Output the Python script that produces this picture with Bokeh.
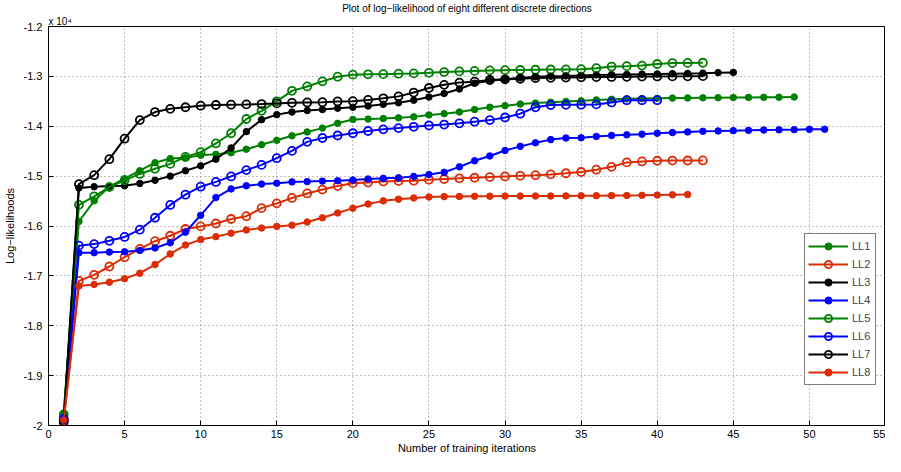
from bokeh.plotting import figure
from bokeh.models import Range1d, FixedTicker, Title, Legend, LegendItem
from bokeh.embed import file_html
from bokeh.resources import INLINE

# ---- data ----
LL1 = [-19750, -15910, -15496, -15212, -15052, -14891, -14731, -14648, -14634, -14582,
       -14563, -14532, -14461, -14370, -14282, -14191, -14114, -14037, -13941, -13864,
       -13857, -13845, -13831, -13812, -13773, -13748, -13715, -13665, -13619, -13588,
       -13555, -13536, -13517, -13503, -13491, -13472, -13459, -13450, -13445, -13440,
       -13436, -13433, -13430, -13428, -13425, -13422, -13420, -13418, -13414]
LL2 = [-19900, -17100, -16979, -16812, -16625, -16459, -16305, -16195, -16060, -16008,
       -15950, -15860, -15804, -15642, -15546, -15438, -15347, -15270, -15199, -15141,
       -15130, -15110, -15100, -15091, -15072, -15058, -15045, -15033, -15020, -15006,
       -14994, -14981, -14965, -14942, -14917, -14871, -14814, -14725, -14706, -14692,
       -14688, -14687, -14686]
LL3 = [-19900, -15237, -15212, -15200, -15193, -15148, -15083, -15000, -14891, -14794,
       -14660, -14436, -14108, -13869, -13767, -13715, -13684, -13665, -13638, -13619,
       -13594, -13561, -13530, -13478, -13414, -13343, -13253, -13137, -13087, -13060,
       -13029, -13010, -12997, -12990, -12980, -12970, -12965, -12960, -12955, -12950,
       -12945, -12940, -12935, -12925, -12920]
LL4 = [-19850, -16536, -16536, -16523, -16517, -16490, -16440, -16336, -16124, -15785,
       -15430, -15257, -15193, -15160, -15141, -15116, -15110, -15100, -15091, -15077,
       -15058, -15045, -15033, -15006, -14968, -14923, -14814, -14692, -14596, -14486,
       -14403, -14332, -14268, -14236, -14230, -14204, -14185, -14172, -14159, -14140,
       -14127, -14114, -14101, -14095, -14088, -14082, -14075, -14072, -14068, -14062,
       -14060]
LL5 = [-19780, -15575, -15405, -15220, -15085, -14956, -14852, -14755, -14615, -14519,
       -14345, -14140, -13855, -13690, -13500, -13290, -13202, -13100, -13006, -12965,
       -12958, -12955, -12946, -12940, -12928, -12913, -12900, -12890, -12880, -12875,
       -12872, -12867, -12862, -12860, -12855, -12836, -12803, -12795, -12784, -12752,
       -12733, -12730, -12727]
LL6 = [-19870, -16394, -16363, -16297, -16220, -16074, -15835, -15578, -15372, -15212,
       -15116, -15006, -14879, -14775, -14640, -14494, -14313, -14236, -14185, -14140,
       -14095, -14062, -14037, -14011, -13985, -13966, -13941, -13908, -13877, -13825,
       -13748, -13619, -13574, -13571, -13568, -13562, -13523, -13478, -13478, -13478]
LL7 = [-19930, -15160, -14981, -14660, -14249, -13877, -13715, -13651, -13619, -13588,
       -13574, -13568, -13562, -13555, -13542, -13530, -13523, -13517, -13503, -13497,
       -13472, -13440, -13401, -13324, -13233, -13170, -13125, -13106, -13073, -13060,
       -13048, -13035, -13029, -13025, -13020, -13015, -13012, -13010, -13005, -13002,
       -13000, -12998, -12995]
LL8 = [-19890, -17203, -17172, -17126, -17056, -16947, -16773, -16561, -16382, -16272,
       -16214, -16143, -16080, -16041, -16008, -15983, -15920, -15835, -15739, -15642,
       -15559, -15496, -15463, -15438, -15418, -15411, -15408, -15405, -15403, -15401,
       -15400, -15399, -15398, -15396, -15394, -15392, -15390, -15388, -15385, -15380,
       -15375, -15370]

series_names = ["LL1", "LL2", "LL3", "LL4", "LL5", "LL6", "LL7", "LL8"]
series_values = [LL1, LL2, LL3, LL4, LL5, LL6, LL7, LL8]

x_ticks = [0, 5, 10, 15, 20, 25, 30, 35, 40, 45, 50, 55]
y_ticks = [-20000, -19000, -18000, -17000, -16000, -15000, -14000, -13000, -12000]
y_tick_labels = ["-2", "-1.9", "-1.8", "-1.7", "-1.6", "-1.5", "-1.4", "-1.3", "-1.2"]

title_text = "Plot of log\u2212likelihood of eight different discrete directions"
x_label = "Number of training iterations"
y_label = "Log\u2212likelihoods"
exponent_text = "x 10\u2074"

# ---- styles ----
GREEN = "#008000"
RED = "#dc2c05"
BLUE = "#0000ff"
BLACK = "#000000"
styles = [
    (GREEN, True), (RED, False), (BLACK, True), (BLUE, True),
    (GREEN, False), (BLUE, False), (BLACK, False), (RED, True),
]
FONT = "Liberation Sans"
W, H = 885, 456
LEFT = 44
FW = W - LEFT

p = figure(width=W, height=H, output_backend="svg", toolbar_location=None,
           x_range=Range1d(0, 55), y_range=Range1d(-20000, -12000),
           min_border_left=LEFT, min_border_right=0, min_border_top=16,
           min_border_bottom=31, title=title_text)
p.background_fill_color = "white"
p.border_fill_color = "white"
p.outline_line_color = "black"
p.outline_line_width = 1

p.title.text_font = FONT
p.title.text_font_size = "10px"
p.title.text_font_style = "normal"
p.title.text_color = "black"
p.title.align = "center"
p.title.standoff = 0
p.title.offset = 0

exp_title = Title(text=exponent_text, align="left", text_font=FONT,
                  text_font_size="10px", text_font_style="normal",
                  text_color="black", standoff=0, offset=0)
p.add_layout(exp_title, "above")

p.xaxis.ticker = FixedTicker(ticks=x_ticks)
p.yaxis.ticker = FixedTicker(ticks=y_ticks)
p.yaxis.major_label_overrides = {t: l for t, l in zip(y_ticks, y_tick_labels)}

for ax in (p.xaxis[0], p.yaxis[0]):
    ax.major_tick_in = 5
    ax.major_tick_out = 0
    ax.minor_tick_in = 0
    ax.minor_tick_out = 0
    ax.axis_line_color = "black"
    ax.major_tick_line_color = "black"
    ax.major_label_text_font = FONT
    ax.major_label_text_font_size = "11px"
    ax.major_label_text_color = "black"
    ax.axis_label_text_font = FONT
    ax.axis_label_text_font_size = "11px"
    ax.axis_label_text_font_style = "normal"
    ax.axis_label_text_color = "black"

p.xaxis.axis_label = x_label
p.yaxis.axis_label = y_label
p.xaxis.major_label_standoff = 4
p.xaxis.axis_label_standoff = 1
p.yaxis.major_label_standoff = 6
p.yaxis.axis_label_standoff = 5

p.xgrid.grid_line_dash = "1 3"
p.ygrid.grid_line_dash = "1 3"
p.xgrid.grid_line_color = "#808080"
p.ygrid.grid_line_color = "#808080"

items = []
for name, vals, (col, filled) in zip(series_names, series_values, styles):
    xs = list(range(1, len(vals) + 1))
    r_line = p.line(xs, vals, line_color=col, line_width=2)
    if filled:
        r_mk = p.scatter(xs, vals, marker="circle", size=6.5, fill_color=col,
                         line_color=col, line_width=1)
    else:
        r_mk = p.scatter(xs, vals, marker="circle", size=8, fill_color=None,
                         line_color=col, line_width=1.8)
    items.append(LegendItem(label=name, renderers=[r_line, r_mk]))

LEG_W = 77
legend = Legend(items=items, location=(FW - LEG_W - 8, 40))
legend.label_text_font = FONT
legend.label_text_font_size = "11px"
legend.glyph_width = 40
legend.glyph_height = 18
legend.label_height = 18
legend.spacing = 0
legend.padding = 3
legend.margin = 0
legend.label_standoff = 4
legend.border_line_color = "black"
legend.border_line_width = 1
legend.background_fill_alpha = 1
p.add_layout(legend, "center")

open("out.html", "w").write(file_html(p, INLINE))
